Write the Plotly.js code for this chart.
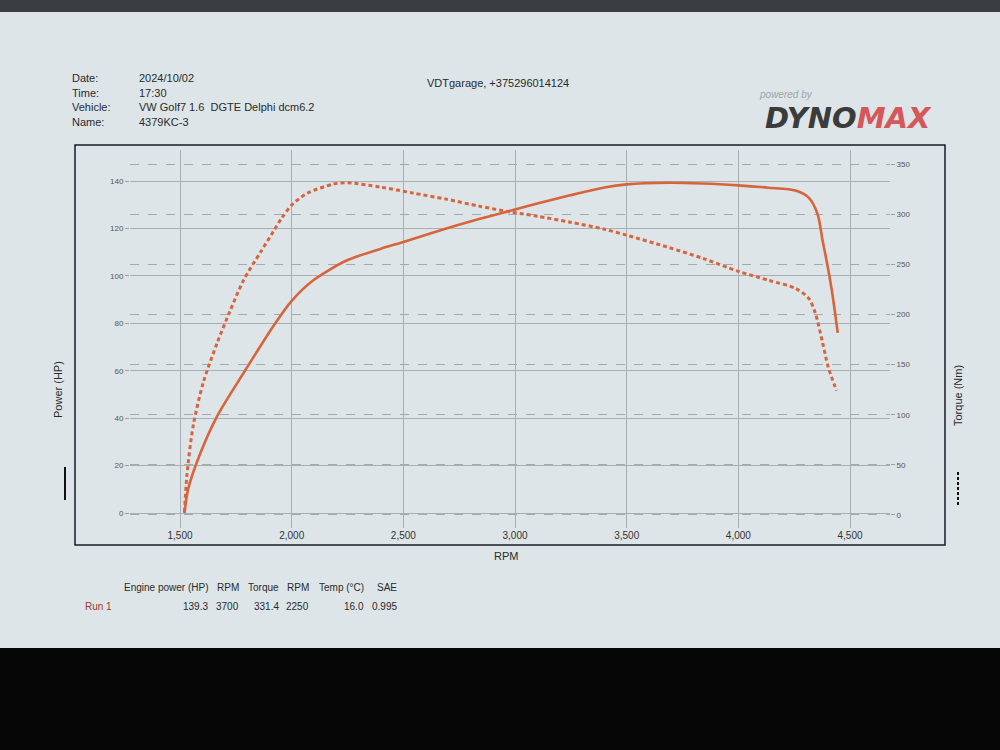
<!DOCTYPE html>
<html>
<head>
<meta charset="utf-8">
<script src="https://cdn.plot.ly/plotly-3.0.1.min.js"></script>
<style>
  html, body { margin: 0; padding: 0; background: #dde5e8; }
  #chart { width: 1000px; height: 750px; }
</style>
</head>
<body>
<div id="chart"></div>
<script>
// ---- Data read from the dyno sheet ----
const rpmPower = [1520, 1536, 1590, 1667, 1784, 1919, 2000, 2094, 2246, 2400, 2500, 2692, 2839, 3000, 3100, 3247, 3400, 3500, 3685, 3840, 4000, 4135, 4256, 4315, 4355, 4377, 4400, 4420, 4445];
const powerHP  = [0, 10, 25, 41, 59, 79, 89.5, 98, 106.5, 111.5, 114.3, 120, 124, 128, 130.5, 134, 137.3, 138.6, 139.3, 139, 138.2, 137.2, 136, 133, 126, 115, 104, 93, 76];

const rpmTorque = [1520, 1531, 1559, 1604, 1667, 1725, 1784, 1860, 1919, 1955, 2000, 2071, 2187, 2250, 2397, 2545, 2692, 2839, 2985, 3100, 3247, 3400, 3500, 3685, 3840, 4000, 4135, 4256, 4315, 4345, 4377, 4403, 4440];
const torqueNm  = [3, 40, 89, 132, 172, 204, 234, 262, 283, 296, 309, 321, 330, 331.4, 327, 321, 315, 308, 302, 298, 292, 285, 279, 267, 256, 243, 234, 226, 216, 201, 172, 147, 124];

const rpmTicks = [1500, 2000, 2500, 3000, 3500, 4000, 4500];

const headerLabels = ["Date:", "Time:", "Vehicle:", "Name:"];
const headerValues = ["2024/10/02", "17:30", "VW Golf7 1.6  DGTE Delphi dcm6.2", "4379KC-3"];
const garage = "VDTgarage, +375296014124";

const tableHeaders = ["Engine power (HP)", "RPM", "Torque", "RPM", "Temp (°C)", "SAE"];
const runName = "Run 1";
const runValues = ["139.3", "3700", "331.4", "2250", "16.0", "0.995"];

// ---- Layout helpers (pixel -> paper) ----
const W = 1000, H = 750, ML = 130, MR = 110, MT = 150, MB = 222;
const PW = W - ML - MR, PH = H - MT - MB;
const px = x => (x - ML) / PW;
const py = y => (H - MB - y) / PH;

const lineColor = "#d8643c";
const font = "Liberation Sans, Arial, sans-serif";

const traces = [
  {
    x: rpmPower, y: powerHP, type: "scatter", mode: "lines", name: "Power",
    line: { color: lineColor, width: 2.6, shape: "spline", smoothing: 0.8 },
    yaxis: "y", hoverinfo: "skip"
  },
  {
    x: rpmTorque, y: torqueNm, type: "scatter", mode: "lines", name: "Torque",
    line: { color: lineColor, width: 3, dash: "4px,3px", shape: "spline", smoothing: 0.8 },
    yaxis: "y2", hoverinfo: "skip"
  }
];

const annotations = [];
headerLabels.forEach((t, i) => {
  const y = 78 + i * 14.7;
  annotations.push({ text: t, x: px(70), y: py(y), xref: "paper", yref: "paper", xanchor: "left", yanchor: "middle", showarrow: false, font: { family: font, size: 11, color: "#2a2a2a" } });
  annotations.push({ text: headerValues[i], x: px(137), y: py(y), xref: "paper", yref: "paper", xanchor: "left", yanchor: "middle", showarrow: false, font: { family: font, size: 11, color: "#2a2a2a" } });
});
annotations.push({ text: garage, x: px(425), y: py(83), xref: "paper", yref: "paper", xanchor: "left", yanchor: "middle", showarrow: false, font: { family: font, size: 11, color: "#2a2a2a" } });

// logo
annotations.push({ text: "<i>powered by</i>", x: px(757), y: py(94), xref: "paper", yref: "paper", xanchor: "left", yanchor: "middle", showarrow: false, font: { family: font, size: 10, color: "#a0a4a6" } });
annotations.push({ text: "<b><i>DYNO<span style='color:#d4585a'>MAX</span></i></b>", x: px(848), y: py(118), xref: "paper", yref: "paper", xanchor: "center", yanchor: "middle", showarrow: false, font: { family: "DejaVu Sans, sans-serif", size: 29, color: "#3b3b3b" } });

// axis titles
annotations.push({ text: "Power (HP)", x: px(58), y: py(390), xref: "paper", yref: "paper", xanchor: "center", yanchor: "middle", textangle: -90, showarrow: false, font: { family: font, size: 11, color: "#2a2a2a" } });
annotations.push({ text: "Torque (Nm)", x: px(958), y: py(396), xref: "paper", yref: "paper", xanchor: "center", yanchor: "middle", textangle: -90, showarrow: false, font: { family: font, size: 11, color: "#2a2a2a" } });
annotations.push({ text: "RPM", x: px(506), y: py(556), xref: "paper", yref: "paper", xanchor: "center", yanchor: "middle", showarrow: false, font: { family: font, size: 11, color: "#2a2a2a" } });

// results table
const colEnds = [210, 241, 281, 311, 366, 399];
tableHeaders.forEach((t, i) => {
  annotations.push({ text: t, x: px(colEnds[i]), y: py(587), xref: "paper", yref: "paper", xanchor: "right", yanchor: "middle", showarrow: false, font: { family: font, size: 10, color: "#2a2a2a" } });
  annotations.push({ text: runValues[i], x: px(colEnds[i]), y: py(606), xref: "paper", yref: "paper", xanchor: "right", yanchor: "middle", showarrow: false, font: { family: font, size: 10, color: "#2a2a2a" } });
});
annotations.push({ text: runName, x: px(83), y: py(606), xref: "paper", yref: "paper", xanchor: "left", yanchor: "middle", showarrow: false, font: { family: font, size: 10, color: "#9a3a30" } });

const shapes = [
  // bottom dark band (outside the screen)
  { type: "rect", xref: "paper", yref: "paper", x0: px(-20), x1: px(1020), y0: py(648), y1: py(760), fillcolor: "#050505", line: { width: 0 }, layer: "below" },
  // top dark strip
  { type: "rect", xref: "paper", yref: "paper", x0: px(-20), x1: px(1020), y0: py(-10), y1: py(12), fillcolor: "#3a3e41", line: { width: 0 }, layer: "below" },
  // chart frame
  { type: "rect", xref: "paper", yref: "paper", x0: px(75), x1: px(945), y0: py(545), y1: py(145), line: { color: "#1a1a2a", width: 1.5 }, fillcolor: "rgba(0,0,0,0)" },
  // legend marks
  { type: "line", xref: "paper", yref: "paper", x0: px(65), x1: px(65), y0: py(467), y1: py(500), line: { color: "#111", width: 2 } },
  { type: "line", xref: "paper", yref: "paper", x0: px(958), x1: px(958), y0: py(472), y1: py(505), line: { color: "#111", width: 2, dash: "3px,2px" } }
];

const layout = {
  width: W, height: H,
  margin: { l: ML, r: MR, t: MT, b: MB, pad: 0 },
  paper_bgcolor: "#dde5e8",
  plot_bgcolor: "#dde5e8",
  showlegend: false,
  xaxis: {
    range: [1276, 4679], tickvals: rpmTicks, tickformat: ",",
    showgrid: true, gridcolor: "#a8afb2", gridwidth: 1,
    zeroline: false, showline: false, ticks: "", ticklen: 0,
    tickfont: { family: font, size: 10, color: "#333" }
  },
  yaxis: {
    range: [-6.3, 153.1], tick0: 0, dtick: 20,
    showgrid: true, gridcolor: "#a8afb2", gridwidth: 1,
    zeroline: false, showline: false, ticks: "outside", ticklen: 4, tickcolor: "#9aa0a3",
    tickfont: { family: font, size: 8, color: "#555" }
  },
  yaxis2: {
    overlaying: "y", side: "right",
    range: [-13, 364], tick0: 0, dtick: 50,
    showgrid: true, gridcolor: "#a3aaad", gridwidth: 1, griddash: "dash",
    zeroline: false, showline: false, ticks: "outside", ticklen: 4, tickcolor: "#9aa0a3",
    tickfont: { family: font, size: 8, color: "#555" }
  },
  annotations: annotations,
  shapes: shapes
};

Plotly.newPlot("chart", traces, layout, { staticPlot: true, displayModeBar: false });
</script>
</body>
</html>
